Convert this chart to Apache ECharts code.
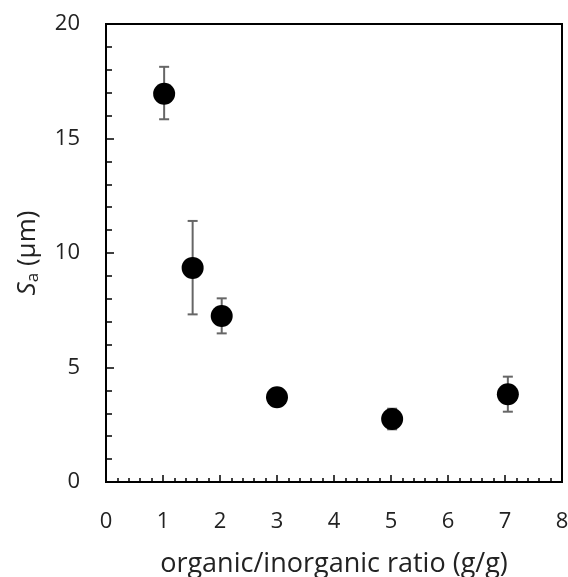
<!DOCTYPE html>
<html>
<head>
<meta charset="utf-8">
<script src="https://cdn.jsdelivr.net/npm/echarts@6/dist/echarts.min.js"></script>
<style>
  html, body { margin: 0; padding: 0; background: #fff; }
  #main { width: 568px; height: 577px; }
</style>
</head>
<body>
<div id="main"></div>
<script>
// organic/inorganic ratio (g/g)
const ratio = [1.02, 1.52, 2.03, 3.0, 5.02, 7.05];
// Sa mean and error bar limits (µm)
const sa = [16.95, 9.35, 7.25, 3.7, 2.75, 3.83];
const saLow = [15.84, 7.32, 6.49, 3.7, 2.3, 3.07];
const saHigh = [18.13, 11.4, 8.02, 3.7, 3.2, 4.6];

const points = ratio.map((x, i) => [x, sa[i]]);
const bars = ratio.map((x, i) => [x, saLow[i], saHigh[i]]);

const fontFamily = 'Open Sans, Noto Sans, sans-serif';

let option = {
  animation: false,
  grid: {
    left: 106,
    top: 24,
    width: 456,
    height: 458,
    show: true,
    borderColor: '#000',
    borderWidth: 2,
    outerBoundsMode: 'none',
    containLabel: false
  },
  xAxis: {
    type: 'value',
    min: 0,
    max: 8,
    interval: 1,
    name: 'organic/inorganic ratio (g/g)',
    nameLocation: 'middle',
    nameGap: 69,
    nameTextStyle: { color: '#222', fontSize: 27, fontFamily: fontFamily },
    axisLine: { show: true, lineStyle: { color: '#000', width: 2 } },
    axisTick: { show: true, inside: true, length: 7, lineStyle: { color: '#000', width: 1.5 } },
    minorTick: { show: true, splitNumber: 5, length: 4, lineStyle: { color: '#000', width: 1.5 } },
    splitLine: { show: false },
    axisLabel: { color: '#222', fontSize: 22, margin: 29, fontFamily: fontFamily }
  },
  yAxis: {
    type: 'value',
    min: 0,
    max: 20,
    interval: 5,
    name: '{i|S}{sub|a}{n| (μm)}',
    nameLocation: 'middle',
    nameGap: 64,
    nameRotate: 90,
    nameTextStyle: {
      rich: {
        i: { fontSize: 26, fontStyle: 'italic', color: '#222', fontFamily: fontFamily },
        sub: { fontSize: 17, color: '#222', fontFamily: fontFamily, verticalAlign: 'bottom', padding: [11, 0, 0, 0] },
        n: { fontSize: 26, color: '#222', fontFamily: fontFamily }
      }
    },
    axisLine: { show: true, lineStyle: { color: '#000', width: 2 } },
    axisTick: { show: true, inside: true, length: 8, lineStyle: { color: '#000', width: 1.5 } },
    minorTick: { show: true, splitNumber: 5, length: 6, lineStyle: { color: '#000', width: 1.5 } },
    splitLine: { show: false },
    axisLabel: { color: '#222', fontSize: 22, margin: 26, fontFamily: fontFamily }
  },
  series: [
    {
      type: 'custom',
      data: bars,
      z: 1,
      renderItem: function (params, api) {
        const x = api.value(0);
        const lo = api.coord([x, api.value(1)]);
        const hi = api.coord([x, api.value(2)]);
        const w = 5;
        const style = { stroke: '#666', lineWidth: 2 };
        return {
          type: 'group',
          children: [
            { type: 'line', shape: { x1: lo[0], y1: lo[1], x2: hi[0], y2: hi[1] }, style: style },
            { type: 'line', shape: { x1: lo[0] - w, y1: lo[1], x2: lo[0] + w, y2: lo[1] }, style: style },
            { type: 'line', shape: { x1: hi[0] - w, y1: hi[1], x2: hi[0] + w, y2: hi[1] }, style: style }
          ]
        };
      }
    },
    {
      type: 'scatter',
      data: points,
      z: 2,
      symbol: 'circle',
      symbolSize: 22,
      itemStyle: { color: '#000', opacity: 1 }
    }
  ]
};

let myChart = echarts.init(document.getElementById('main'));
myChart.setOption(option);
</script>
</body>
</html>
